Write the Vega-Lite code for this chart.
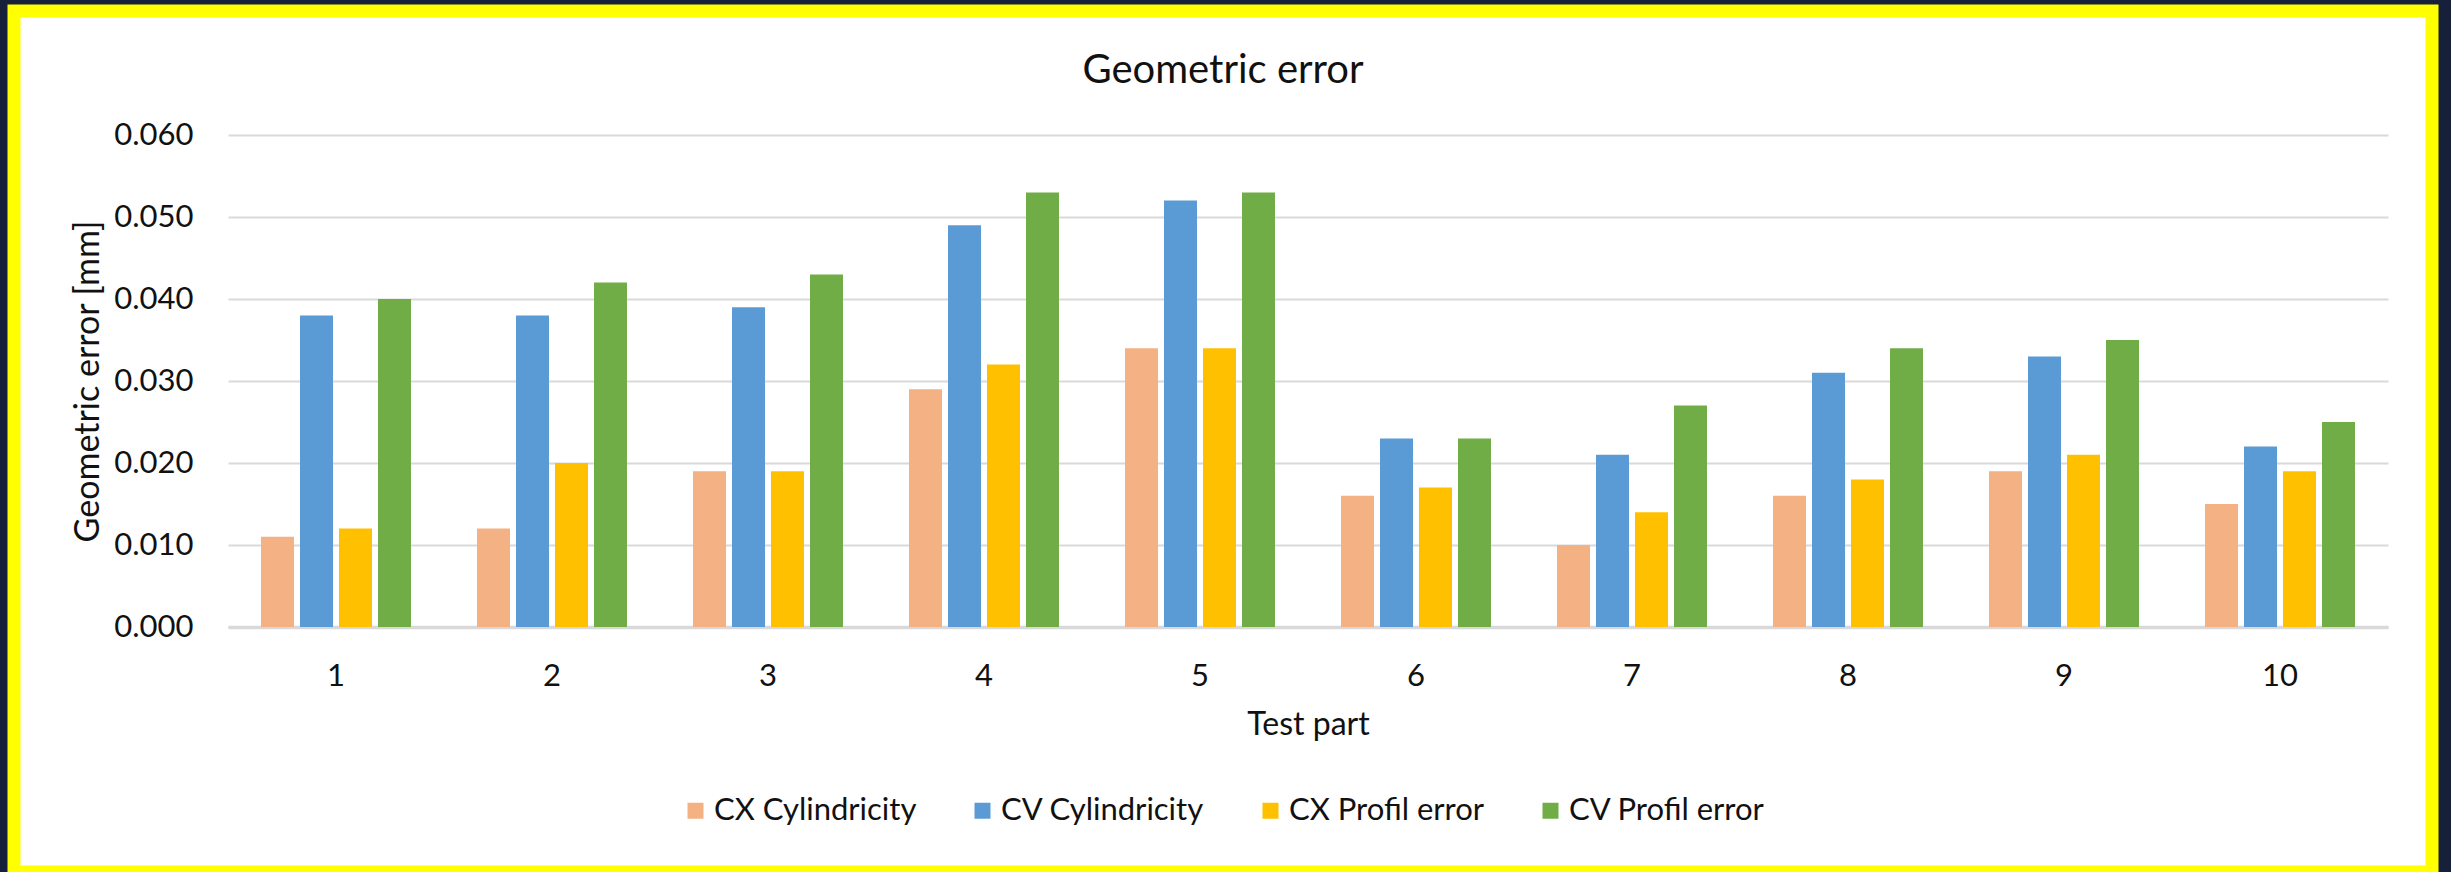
{
  "$schema": "https://vega.github.io/schema/vega-lite/v6.json",
  "autosize": {"type": "none"},
  "width": 2418,
  "height": 861,
  "padding": {"left": 14, "top": 11, "right": 19, "bottom": 0},
  "background": "#17203b",
  "title": {
    "text": "Geometric error",
    "anchor": "middle",
    "frame": "group",
    "baseline": "alphabetic",
    "offset": -112,
    "font": "Lato",
    "fontSize": 40,
    "fontWeight": "normal",
    "color": "#111111"
  },
  "data": {
    "values": [
      {"part": "1", "series": "CX Cylindricity", "value": 0.011},
      {"part": "1", "series": "CV Cylindricity", "value": 0.038},
      {"part": "1", "series": "CX Profil error", "value": 0.012},
      {"part": "1", "series": "CV Profil error", "value": 0.040},
      {"part": "2", "series": "CX Cylindricity", "value": 0.012},
      {"part": "2", "series": "CV Cylindricity", "value": 0.038},
      {"part": "2", "series": "CX Profil error", "value": 0.020},
      {"part": "2", "series": "CV Profil error", "value": 0.042},
      {"part": "3", "series": "CX Cylindricity", "value": 0.019},
      {"part": "3", "series": "CV Cylindricity", "value": 0.039},
      {"part": "3", "series": "CX Profil error", "value": 0.019},
      {"part": "3", "series": "CV Profil error", "value": 0.043},
      {"part": "4", "series": "CX Cylindricity", "value": 0.029},
      {"part": "4", "series": "CV Cylindricity", "value": 0.049},
      {"part": "4", "series": "CX Profil error", "value": 0.032},
      {"part": "4", "series": "CV Profil error", "value": 0.053},
      {"part": "5", "series": "CX Cylindricity", "value": 0.034},
      {"part": "5", "series": "CV Cylindricity", "value": 0.052},
      {"part": "5", "series": "CX Profil error", "value": 0.034},
      {"part": "5", "series": "CV Profil error", "value": 0.053},
      {"part": "6", "series": "CX Cylindricity", "value": 0.016},
      {"part": "6", "series": "CV Cylindricity", "value": 0.023},
      {"part": "6", "series": "CX Profil error", "value": 0.017},
      {"part": "6", "series": "CV Profil error", "value": 0.023},
      {"part": "7", "series": "CX Cylindricity", "value": 0.010},
      {"part": "7", "series": "CV Cylindricity", "value": 0.021},
      {"part": "7", "series": "CX Profil error", "value": 0.014},
      {"part": "7", "series": "CV Profil error", "value": 0.027},
      {"part": "8", "series": "CX Cylindricity", "value": 0.016},
      {"part": "8", "series": "CV Cylindricity", "value": 0.031},
      {"part": "8", "series": "CX Profil error", "value": 0.018},
      {"part": "8", "series": "CV Profil error", "value": 0.034},
      {"part": "9", "series": "CX Cylindricity", "value": 0.019},
      {"part": "9", "series": "CV Cylindricity", "value": 0.033},
      {"part": "9", "series": "CX Profil error", "value": 0.021},
      {"part": "9", "series": "CV Profil error", "value": 0.035},
      {"part": "10", "series": "CX Cylindricity", "value": 0.015},
      {"part": "10", "series": "CV Cylindricity", "value": 0.022},
      {"part": "10", "series": "CX Profil error", "value": 0.019},
      {"part": "10", "series": "CV Profil error", "value": 0.025}
    ]
  },
  "mark": {"type": "bar"},
  "encoding": {
    "x": {
      "field": "part",
      "type": "ordinal",
      "sort": ["1", "2", "3", "4", "5", "6", "7", "8", "9", "10"],
      "title": "Test part",
      "scale": {"range": [214, 2374], "paddingInner": 0.3056, "paddingOuter": 0.1528},
      "axis": {
        "orient": "bottom",
        "offset": -245,
        "labelAngle": 0,
        "ticks": false,
        "tickSize": 0,
        "labelPadding": 34,
        "labelFont": "Lato",
        "labelFontSize": 31,
        "labelColor": "#111111",
        "domainColor": "#d9d9d9",
        "domainWidth": 3.5,
        "grid": false,
        "titleFont": "Lato",
        "titleFontSize": 32,
        "titleFontWeight": "normal",
        "titleColor": "#111111",
        "titlePadding": 18
      }
    },
    "xOffset": {
      "field": "series",
      "type": "nominal",
      "sort": ["CX Cylindricity", "CV Cylindricity", "CX Profil error", "CV Profil error"],
      "scale": {"paddingInner": 0.154, "paddingOuter": 0}
    },
    "y": {
      "field": "value",
      "type": "quantitative",
      "title": "Geometric error [mm]",
      "scale": {"domain": [0, 0.06], "range": [616, 124], "nice": false, "zero": true},
      "axis": {
        "orient": "left",
        "offset": -214,
        "values": [0, 0.01, 0.02, 0.03, 0.04, 0.05, 0.06],
        "format": ".3f",
        "ticks": false,
        "tickSize": 0,
        "domain": false,
        "labelPadding": 35,
        "labelFont": "Lato",
        "labelFontSize": 31,
        "labelColor": "#111111",
        "gridColor": "#d9d9d9",
        "gridWidth": 2,
        "titleFont": "Lato",
        "titleFontSize": 34,
        "titleFontWeight": "normal",
        "titleColor": "#111111",
        "titlePadding": 8
      }
    },
    "color": {
      "field": "series",
      "type": "nominal",
      "title": null,
      "scale": {
        "domain": ["CX Cylindricity", "CV Cylindricity", "CX Profil error", "CV Profil error"],
        "range": ["#f4b183", "#5b9bd5", "#ffc000", "#70ad47"]
      },
      "legend": {
        "orient": "none",
        "direction": "horizontal",
        "legendX": 666,
        "legendY": 784,
        "symbolType": "square",
        "symbolSize": 256,
        "symbolStrokeWidth": 0,
        "symbolOpacity": 1,
        "labelFont": "Lato",
        "labelFontSize": 31,
        "labelColor": "#111111",
        "labelOffset": 3,
        "columnPadding": 50,
        "labelLimit": 400
      }
    }
  },
  "config": {
    "view": {"fill": "#ffffff", "stroke": "#ffff00", "strokeWidth": 13}
  }
}
